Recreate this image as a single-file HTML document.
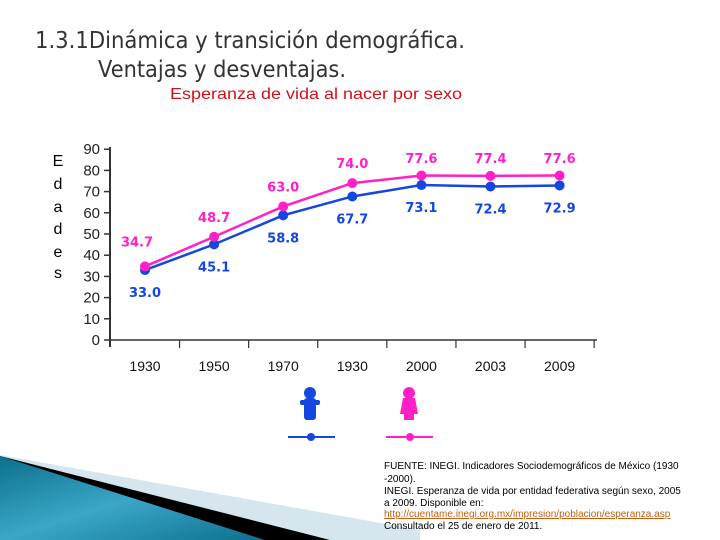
<!DOCTYPE html>
<html><head><meta charset="utf-8"><style>
html,body{margin:0;padding:0;background:#fff;}
svg{display:block;}
</style></head><body>
<svg id="chart" width="720" height="540" viewBox="0 0 720 540" xmlns="http://www.w3.org/2000/svg">
  <defs>
    <linearGradient id="teal" x1="0" y1="0" x2="1" y2="1">
      <stop offset="0" stop-color="#0b6f8a"/><stop offset="0.5" stop-color="#3aa7c8"/><stop offset="1" stop-color="#0d6f8f"/>
    </linearGradient>
  </defs>
  <g>
    <polygon points="0,455 420,530 420,540 0,540" fill="#d5e6ee"/>
    <polygon points="0,456 330,540 0,540" fill="#000"/>
    <polygon points="0,456 265,540 0,540" fill="url(#teal)"/>
  </g>
  <text x="35" y="48" font-family="DejaVu Sans, sans-serif" font-size="23" fill="#333" textLength="430" lengthAdjust="spacingAndGlyphs">1.3.1Dinámica y transición demográfica.</text>
  <text x="98" y="77" font-family="DejaVu Sans, sans-serif" font-size="23" fill="#333" textLength="248" lengthAdjust="spacingAndGlyphs">Ventajas y desventajas.</text>
  <text x="170" y="99" font-family="Liberation Sans, sans-serif" font-size="16" fill="#d0101a" textLength="292" lengthAdjust="spacingAndGlyphs">Esperanza de vida al nacer por sexo</text>
  <text font-family="Liberation Sans, sans-serif" font-size="16" fill="#000" text-anchor="middle">
    <tspan x="58" y="166">E</tspan><tspan x="58" y="189">d</tspan><tspan x="58" y="212">a</tspan><tspan x="58" y="234">d</tspan><tspan x="58" y="257">e</tspan><tspan x="58" y="278">s</tspan>
  </text>
  <g id="axes"></g>
  <g id="series"></g>
  <g>
    <g>
      <circle cx="310" cy="393" r="6" fill="#1446e0"/>
      <rect x="304" y="398" width="12" height="22" rx="3" fill="#1446e0"/>
      <rect x="300" y="400" width="20" height="5" rx="2" fill="#1446e0"/>
      <line x1="288" y1="437" x2="335" y2="437" stroke="#1446e0" stroke-width="2"/>
      <circle cx="311" cy="437" r="4" fill="#1446e0"/>
    </g>
    <g>
      <circle cx="409" cy="393" r="6" fill="#ff20c8"/>
      <path d="M403,398 L415,398 L418,414 L400,414 Z" fill="#ff20c8"/>
      <rect x="404" y="412" width="10" height="8" fill="#ff20c8"/>
      <line x1="386" y1="437" x2="433" y2="437" stroke="#ff20c8" stroke-width="2"/>
      <circle cx="410" cy="437" r="4" fill="#ff20c8"/>
    </g>
  </g>
  <g font-family="Liberation Sans, sans-serif" font-size="10" fill="#000">
    <text x="384" y="469">FUENTE: INEGI. Indicadores Sociodemográficos de México (1930</text>
    <text x="384" y="482">-2000).</text>
    <text x="384" y="494">INEGI. Esperanza de vida por entidad federativa según sexo, 2005</text>
    <text x="384" y="506">a 2009. Disponible en:</text>
    <text x="384" y="517" fill="#c06010" text-decoration="underline">http://cuentame.inegi.org.mx/impresion/poblacion/esperanza.asp</text>
    <text x="384" y="529">Consultado el 25 de enero de 2011.</text>
  </g>
</svg>
<script>
const categories = ["1930","1950","1970","1930","2000","2003","2009"];
const femaleValues = [34.7,48.7,63.0,74.0,77.6,77.4,77.6];
const maleValues = [33.0,45.1,58.8,67.7,73.1,72.4,72.9];
const yTicks = [0,10,20,30,40,50,60,70,80,90];
const NS = "http://www.w3.org/2000/svg";
const X0 = 145, XSTEP = 69.1, Y0 = 340, YPX = 2.12;
function xPos(i){ return X0 + i*XSTEP; }
function yPos(v){ return Y0 - v*YPX; }
function mk(tag, attrs, parent){ const e=document.createElementNS(NS,tag); for(const k in attrs) e.setAttribute(k, attrs[k]); parent.appendChild(e); return e; }
const axes = document.getElementById("axes");
const series = document.getElementById("series");
let yl = mk("line",{x1:110,y1:147,x2:110,y2:347,stroke:"#333","stroke-width":2},axes);


let xl = mk("line",{x1:110,y1:340,x2:597,y2:340,stroke:"#333","stroke-width":1.5},axes);


yTicks.forEach(v=>{
  const t = mk("line",{x1:104,y1:yPos(v),x2:110,y2:yPos(v),stroke:"#333","stroke-width":1.5},axes);
  
  
  const l = mk("text",{x:100,y:yPos(v)+5,"text-anchor":"end","font-family":"Liberation Sans, sans-serif","font-size":15,fill:"#222"},axes);
  l.textContent = v;
  
  
});
categories.forEach((c,i)=>{
  const tx = xPos(i) + XSTEP/2;
  const t = mk("line",{x1:tx,y1:340,x2:tx,y2:348,stroke:"#333","stroke-width":1.2},axes);
  
  
  const l = mk("text",{x:xPos(i),y:371,"text-anchor":"middle","font-family":"Liberation Sans, sans-serif","font-size":14,fill:"#111"},axes);
  l.textContent = c;
  
  
});
function drawSeries(vals, color, name, labelOff){
  const pts = vals.map((v,i)=>xPos(i)+","+yPos(v)).join(" ");
  const pl = mk("polyline",{points:pts,fill:"none",stroke:color,"stroke-width":2.5},series);
  
  
  vals.forEach((v,i)=>{
    const c = mk("circle",{cx:xPos(i),cy:yPos(v),r:5,fill:color},series);
    
    
    let lx = xPos(i), ly = yPos(v)+labelOff;
    if(name==="female"){ if(i===0){ lx -= 8; ly -= 5; } ly = Math.min(ly, yPos(v)-17); ly = Math.max(ly,158); }
    const t = mk("text",{x:lx,y:ly+5,"text-anchor":"middle","font-family":"DejaVu Sans, sans-serif","font-weight":"bold","font-size":13,fill:color},series);
    t.textContent = v.toFixed(1);
    
    
  });
}
drawSeries(maleValues, "#1446e0", "male", 22);
drawSeries(femaleValues, "#ff20c8", "female", -20);
</script>
</body></html>
